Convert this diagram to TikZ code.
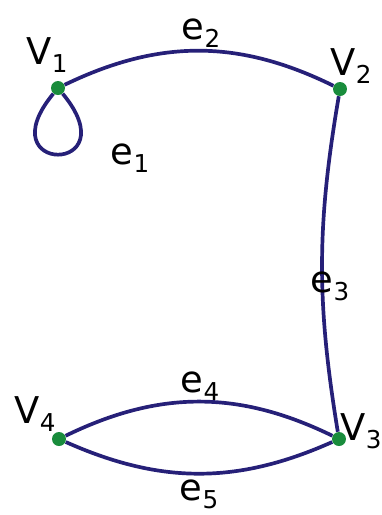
\documentclass[tikz,border=0pt]{standalone}
\usepackage{fontspec}
\setmainfont{DejaVu Sans}
\definecolor{edgeblue}{RGB}{38,32,120}
\definecolor{dotgreen}{RGB}{25,140,60}
\newcommand{\glab}[2]{{\fontsize{21}{21}\selectfont #1\raisebox{-4.5pt}{\fontsize{14}{14}\selectfont #2}}}

\begin{document}
\begin{tikzpicture}[
    x=0.02cm,y=-0.02cm,
    vertex/.style={circle,fill=dotgreen,inner sep=0pt,minimum size=0.28cm},
    edge/.style={draw=edgeblue,line width=2.1pt},
    lab/.style={inner sep=0pt,anchor=center}
]
    \useasboundingbox (0,0) rectangle (382,515);

    \node[vertex] (v1) at (58,88) {};
    \node[vertex] (v2) at (340,89) {};
    \node[vertex] (v3) at (339,439) {};
    \node[vertex] (v4) at (59,439) {};

    \draw[edge] (v1) .. controls +(72,87) and +(-72,87) .. (v1);
    \draw[edge] (v1) to[bend left=26] (v2);
    \draw[edge] (v2) to[bend right=9.5] (v3);
    \draw[edge] (v4) to[bend left=26] (v3);
    \draw[edge] (v4) to[bend right=24] (v3);

    \node[lab] (lv1) at (47,55) {\glab{V}{1}};
    \node[lab] (lv2) at (351,66) {\glab{V}{2}};
    \node[lab] (lv3) at (361,431) {\glab{V}{3}};
    \node[lab] (lv4) at (35,414) {\glab{V}{4}};
    \node[lab] (le1) at (130,158) {\glab{e}{1}};
    \node[lab] (le2) at (201,33) {\glab{e}{2}};
    \node[lab] (le3) at (330,286) {\glab{e}{3}};
    \node[lab] (le4) at (200,386) {\glab{e}{4}};
    \node[lab] (le5) at (199,494) {\glab{e}{5}};
\end{tikzpicture}
\end{document}
